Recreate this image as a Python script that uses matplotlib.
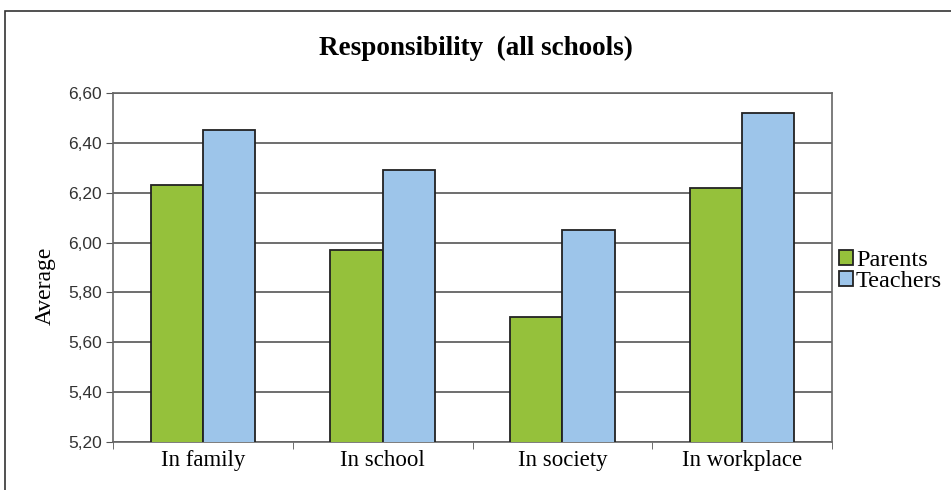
import numpy as np
import matplotlib.pyplot as plt
from matplotlib.patches import Rectangle

# dados
categorias = ['In family', 'In school', 'In society', 'In workplace']
parents = [6.23, 5.97, 5.70, 6.22]
teachers = [6.45, 6.29, 6.05, 6.52]
yticks = [5.20, 5.40, 5.60, 5.80, 6.00, 6.20, 6.40, 6.60]

fig = plt.figure(figsize=(9.51, 4.90), dpi=100)
ax = fig.add_axes([0.1188, 0.098, 0.7561, 0.7122])

# moldura externa do grafico
fig.patches.append(Rectangle((0.005, -0.05), 1.2, 1.027, transform=fig.transFigure,
                             fill=False, edgecolor='#333333', linewidth=1.2))

x = np.arange(len(categorias))
w = 0.29
ax.bar(x - w/2, parents, w, color='#95c13b', edgecolor='#222222', linewidth=1.3,
       label='Parents', zorder=3)
ax.bar(x + w/2, teachers, w, color='#9dc5ea', edgecolor='#222222', linewidth=1.3,
       label='Teachers', zorder=3)

ax.set_ylim(5.20, 6.60)
ax.set_xlim(-0.5, len(categorias) - 0.5)
ax.set_yticks(yticks)
ax.set_yticklabels([f'{v:.2f}'.replace('.', ',') for v in yticks],
                   fontfamily='Liberation Sans', fontsize=12.5, color='#333333')
ax.yaxis.grid(True, color='#555555', linewidth=1.2, zorder=0)

ax.set_xticks(x)
ax.set_xticklabels(categorias, fontfamily='Liberation Serif', fontsize=16.5)
ax.tick_params(axis='x', which='major', length=0, pad=6)
ax.set_xticks(np.arange(-0.5, len(categorias)), minor=True)
ax.tick_params(axis='x', which='minor', length=5, color='#555555')
ax.tick_params(axis='y', length=5, color='#555555', pad=3)

for s in ax.spines.values():
    s.set_color('#666666')
    s.set_linewidth(1.2)

ax.set_ylabel('Average', fontfamily='Liberation Serif', fontsize=17)
ax.yaxis.set_label_coords(-0.079, 0.447)
fig.text(0.50, 0.902, 'Responsibility  (all schools)', ha='center', va='center',
         fontfamily='Liberation Serif', fontweight='bold', fontsize=19.5)

leg = ax.legend(loc='center left', bbox_to_anchor=(1.006, 0.49), frameon=False,
                prop={'family': 'Liberation Serif', 'size': 17.5},
                handlelength=0.6, handleheight=0.6, handletextpad=0.1,
                labelspacing=0.0, borderaxespad=0.0, borderpad=0.1)

fig.savefig('out.png', dpi=100)
